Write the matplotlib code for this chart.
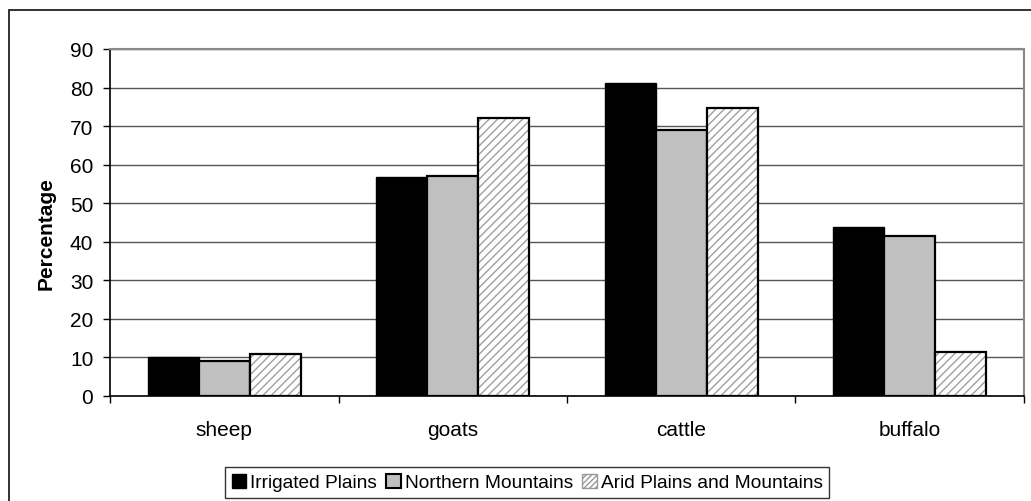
import matplotlib
matplotlib.use("Agg")
import matplotlib.pyplot as plt
from matplotlib.patches import Patch, Rectangle
import numpy as np

plt.rcParams['font.family'] = ['Liberation Sans', 'DejaVu Sans']

categories = ['sheep', 'goats', 'cattle', 'buffalo']
series_names = ['Irrigated Plains', 'Northern Mountains', 'Arid Plains and Mountains']
irrigated = [10.0, 56.7, 81.2, 43.9]
northern = [9.0, 57.1, 69.0, 41.6]
arid = [10.9, 72.1, 74.6, 11.3]

fig = plt.figure(figsize=(10.31, 5.02), dpi=100)
ax = fig.add_axes([110 / 1031, 105 / 502, 914 / 1031, 347 / 502])

# outer chart frame, clipped at the right and bottom
fig.patches.append(Rectangle((9 / 1031, -0.05), 1.1, 1 - 11 / 502 + 0.05,
                             transform=fig.transFigure, fill=False,
                             edgecolor='#222222', linewidth=1.3, zorder=0))

x = np.arange(len(categories))
w = 0.223

ax.bar(x - w, irrigated, w, color='black', edgecolor='black', linewidth=1, zorder=3)
ax.bar(x, northern, w, color='#c0c0c0', edgecolor='black', linewidth=1.6, zorder=3)
# hatch in gray, then a black outline on top
ax.bar(x + w, arid, w, color='white', edgecolor='#a0a0a0', hatch='////',
       linewidth=0, zorder=3)
ax.bar(x + w, arid, w, fill=False, edgecolor='black', linewidth=1.6, zorder=4)

ax.set_xlim(-0.5, len(categories) - 0.5)
ax.set_ylim(0, 90)
ax.set_yticks(np.arange(0, 91, 10))
ax.yaxis.grid(True, color='#555555', linewidth=1)
ax.set_axisbelow(True)

ax.set_xticks(x)
ax.set_xticklabels(categories, fontsize=15)
ax.set_xticks(np.arange(-0.5, len(categories), 1), minor=True)
ax.tick_params(axis='x', which='major', length=0, pad=17)
ax.tick_params(axis='x', which='minor', length=5, width=1, direction='out')
ax.tick_params(axis='y', length=5, width=1, direction='out', labelsize=15, pad=7)

for s in ['left', 'bottom']:
    ax.spines[s].set_color('black')
    ax.spines[s].set_linewidth(1.2)
for s in ['top', 'right']:
    ax.spines[s].set_color('#888888')
    ax.spines[s].set_linewidth(1.5)

ax.set_ylabel('Percentage', fontsize=15, fontweight='bold')
ax.yaxis.set_label_coords(-0.059, 0.47)

handles = [
    Patch(facecolor='black', edgecolor='black', label=series_names[0]),
    Patch(facecolor='#c0c0c0', edgecolor='black', linewidth=1.5, label=series_names[1]),
    Patch(facecolor='white', edgecolor='#999999', hatch='//////', linewidth=1, label=series_names[2]),
]
leg = fig.legend(handles=handles, loc='upper left', bbox_to_anchor=(225 / 1031, 1 - 468 / 502),
                 ncol=3, frameon=True, fancybox=False, fontsize=13.8,
                 handlelength=0.75, handleheight=0.75, handletextpad=0.2,
                 columnspacing=0.5, borderpad=0.35, borderaxespad=0)
leg.get_frame().set_edgecolor('black')
leg.get_frame().set_linewidth(1)

fig.savefig('out.png', dpi=100)
